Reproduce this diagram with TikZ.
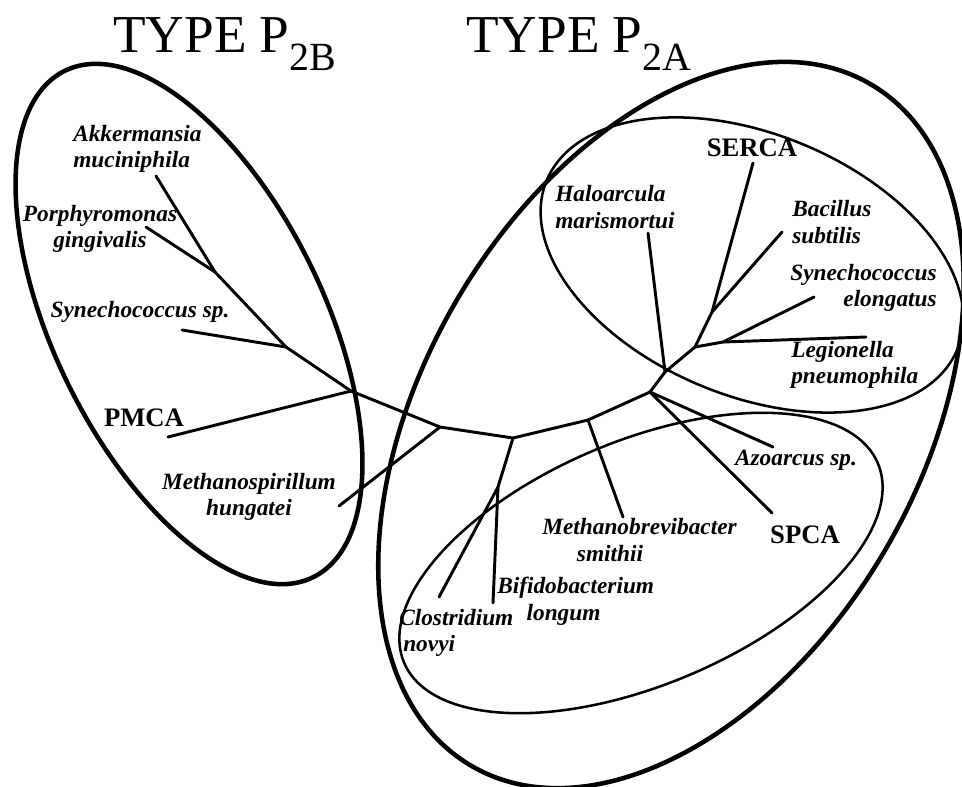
\documentclass[tikz,border=0pt]{standalone}
\usepackage{fontspec}
\setmainfont{Liberation Serif}

\begin{document}
\begin{tikzpicture}[x=0.75pt, y=-0.75pt,
    branch/.style={line width=2.2pt, line cap=round, line join=round},
    bigloop/.style={line width=3.4pt},
    smallloop/.style={line width=1.9pt},
    species/.style={inner sep=0pt, font=\fontsize{17.5}{20}\selectfont\bfseries\itshape},
    pump/.style={inner sep=0pt, font=\fontsize{20}{22}\selectfont\bfseries},
    typetitle/.style={inner sep=0pt, anchor=base west, font=\fontsize{40}{40}\selectfont}]

    % Define parameters
    \def\typesub#1{\raisebox{-0.34em}{\fontsize{30}{30}\selectfont #1}}

    % frame, in pixels of the figure
    \useasboundingbox (0,0) rectangle (962,786);

    % titles
    \node[typetitle] (p2b) at (113,52) {TYPE P\typesub{2B}};
    \node[typetitle] (p2a) at (466,52) {TYPE P\typesub{2A}};

    % group outlines
    \coordinate (cb) at (189,324);
    \coordinate (ca) at (671,425);
    \coordinate (cserca) at (752,265);
    \coordinate (cspca) at (641,563);
    \draw[bigloop, rotate around={-63.9:(cb)}] (cb) ellipse (282 and 135);
    \draw[bigloop, rotate around={59.6:(ca)}] (ca) ellipse (395 and 248);
    \draw[smallloop, rotate around={-22.3:(cserca)}] (cserca) ellipse (222 and 131);
    \draw[smallloop, rotate around={22.8:(cspca)}] (cspca) ellipse (257 and 122);

    % tree junctions
    \coordinate (ja) at (215,272);
    \coordinate (jb) at (286,347);
    \coordinate (jc) at (351,391);
    \coordinate (jd) at (440,427);
    \coordinate (je) at (513,438);
    \coordinate (je2) at (498,487);
    \coordinate (jf) at (588,420);
    \coordinate (jg) at (650,392);
    \coordinate (jh) at (665,372);
    \coordinate (ji) at (695,347);
    \coordinate (jj) at (712,312);
    \coordinate (jk) at (723,342);

    % tree tips
    \coordinate (tAkk) at (156,176);
    \coordinate (tPorph) at (146,227);
    \coordinate (tSynsp) at (182,330);
    \coordinate (tPmca) at (168,437);
    \coordinate (tMspir) at (339,506);
    \coordinate (tClost) at (439,597);
    \coordinate (tBifido) at (493,603);
    \coordinate (tMbrev) at (623,517);
    \coordinate (tAzo) at (773,447);
    \coordinate (tSpca) at (772,513);
    \coordinate (tHalo) at (648,233);
    \coordinate (tSerca) at (753,163);
    \coordinate (tBacil) at (782,232);
    \coordinate (tSynel) at (814,297);
    \coordinate (tLegio) at (866,337);

    % branches
    \draw[branch] (tAkk) -- (ja) -- (jb) -- (jc) -- (jd) -- (je) -- (jf) -- (jg) -- (jh) -- (ji) -- (jj) -- (tSerca);
    \draw[branch] (tPorph) -- (ja);
    \draw[branch] (tSynsp) -- (jb);
    \draw[branch] (tPmca) -- (jc);
    \draw[branch] (tMspir) -- (jd);
    \draw[branch] (je) -- (je2) -- (tClost);
    \draw[branch] (je2) -- (tBifido);
    \draw[branch] (jf) -- (tMbrev);
    \draw[branch] (jg) -- (tAzo);
    \draw[branch] (jg) -- (tSpca);
    \draw[branch] (jh) -- (tHalo);
    \draw[branch] (jj) -- (tBacil);
    \draw[branch] (ji) -- (jk) -- (tLegio);
    \draw[branch] (jk) -- (tSynel);

    % labels
    \node[species, align=left, anchor=west] (akk) at (73,149) {Akkermansia\\muciniphila};
    \node[species, align=center] (porph) at (100,229) {Porphyromonas\\gingivalis};
    \node[species] (synsp) at (140,312) {Synechococcus sp.};
    \node[pump] (pmca) at (144,418) {PMCA};
    \node[species, align=center] (mspir) at (249,497) {Methanospirillum\\hungatei};
    \node[species, align=left, anchor=west] (halo) at (555,207) {Haloarcula\\marismortui};
    \node[pump] (serca) at (752,148) {SERCA};
    \node[species, align=left, anchor=west] (bacil) at (792,222) {Bacillus\\subtilis};
    \node[species, align=right, anchor=east] (synel) at (937,288) {Synechococcus\\elongatus};
    \node[species, align=left, anchor=west] (legio) at (791,365) {Legionella\\pneumophila};
    \node[species] (azo) at (796,460) {Azoarcus sp.};
    \node[pump] (spca) at (805,535) {SPCA};
    \node[species, align=left, anchor=west] (mbrev) at (542,540) {Methanobrevibacter\\\hspace*{26pt}smithii};
    \node[species, align=left, anchor=west] (bifido) at (497,601) {Bifidobacterium\\\hspace*{22pt}longum};
    \node[species, align=left, anchor=west] (clost) at (399,633) {Clostridium\\\hspace*{3pt}novyi};

\end{tikzpicture}
\end{document}
